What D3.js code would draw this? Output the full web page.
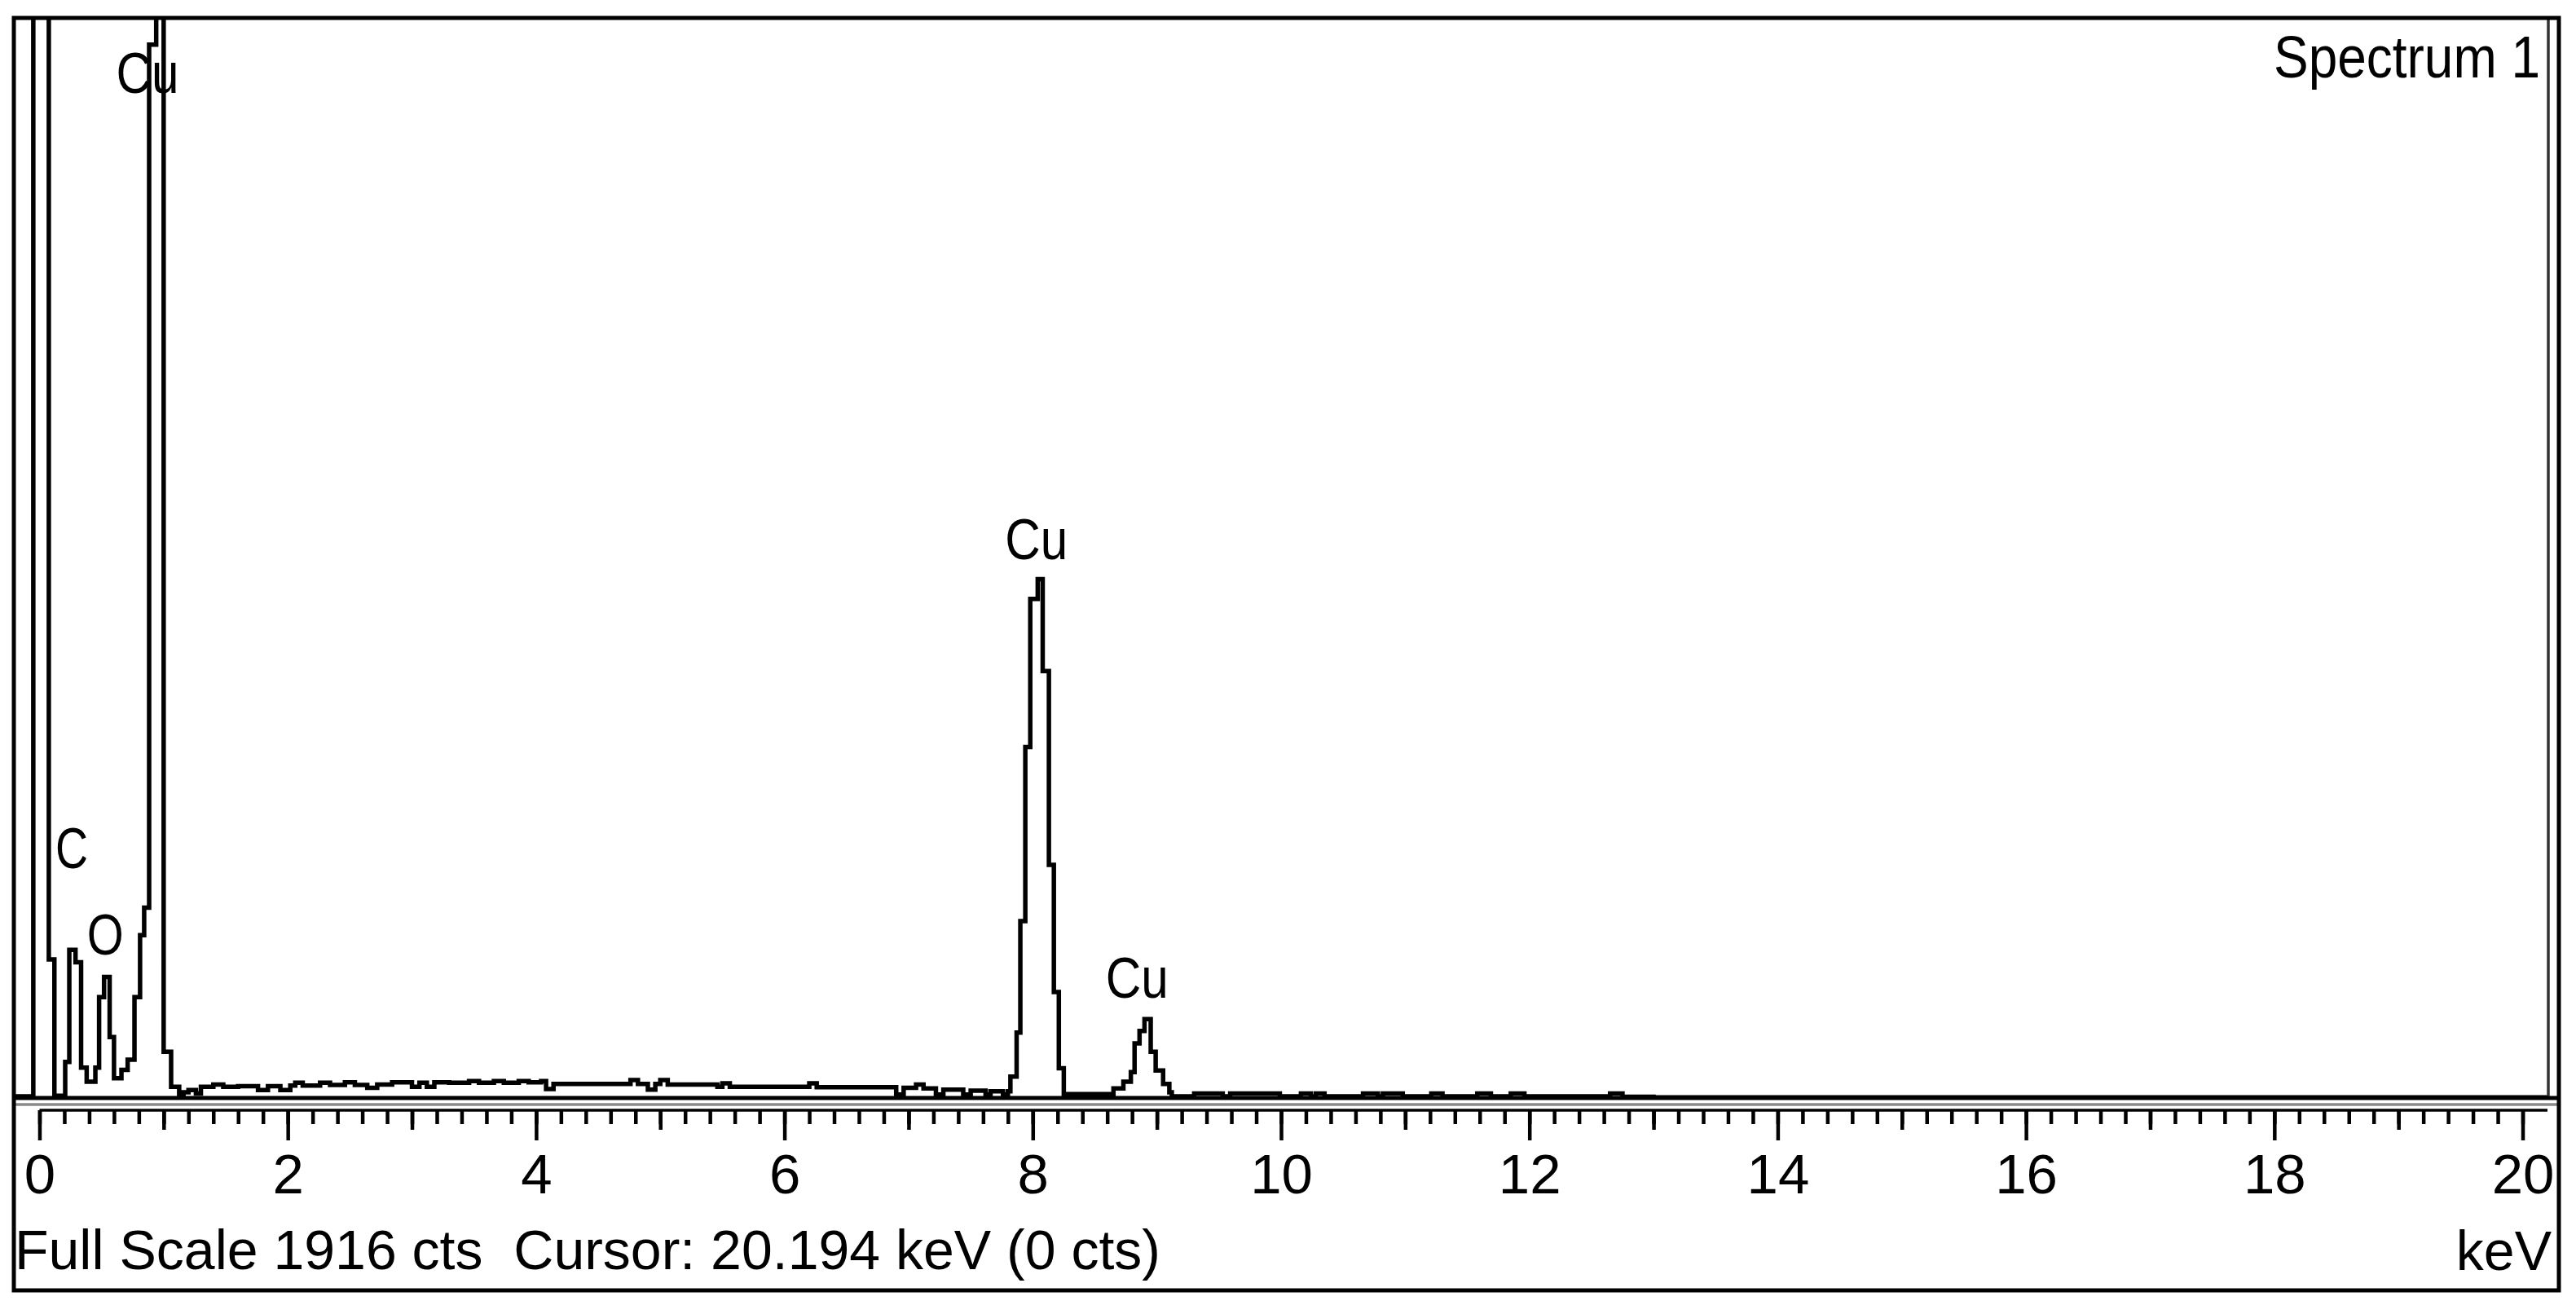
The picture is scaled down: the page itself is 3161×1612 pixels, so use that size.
<!DOCTYPE html>
<html>
<head>
<meta charset="utf-8">
<script src="https://cdn.jsdelivr.net/npm/d3@7"></script>
<style>
  html, body { margin: 0; padding: 0; background: #fff; }
  svg { display: block; }
  text { font-family: "Liberation Sans", Arial, sans-serif; fill: #000; }
</style>
</head>
<body>
<svg id="chart" width="3161" height="1612"></svg>
<script>
// ---- data ----
const energies = [
  -0.20, -0.05, 0.075, 0.12, 0.207, 0.24, 0.29, 0.335, 0.38, 0.45, 0.48, 0.52, 0.565, 0.60, 0.66, 0.71,
  0.765, 0.81, 0.843, 0.883, 0.94, 1.00, 1.06, 1.125,
  1.16, 1.20, 1.26, 1.30, 1.40, 1.48, 1.60, 1.76, 1.84, 1.94, 2.02, 2.06, 2.12, 2.26, 2.34, 2.46, 2.54,
  2.64, 2.72, 2.84, 3.00, 3.06, 3.12, 3.18, 3.30, 3.46, 3.54, 3.66, 3.74, 3.86, 3.94, 4.04, 4.08, 4.14,
  4.76, 4.82, 4.90, 4.96, 5.00, 5.06, 5.46, 5.50, 5.56, 6.20, 6.26, 6.90, 6.96, 7.06, 7.12, 7.22, 7.28,
  7.44, 7.50, 7.62, 7.66, 7.76, 7.80,
  7.82, 7.87, 7.90, 7.94, 7.98, 8.04, 8.08, 8.13, 8.17, 8.21, 8.25,
  8.65, 8.73, 8.79, 8.82, 8.86, 8.90, 8.95, 8.99, 9.05, 9.10, 9.12,
  9.30, 9.53, 9.59, 9.99, 10.16, 10.24, 10.28, 10.35, 10.66, 10.78, 10.82, 10.98, 11.21, 11.30,
  11.58, 11.69, 11.85, 11.96, 12.65, 12.75, 13.00, 20.20
];
const counts = [
  3, 3000, 246, 4, 64, 263, 241, 54, 29, 54, 179, 215, 108, 35, 50, 68,
  179, 289, 338, 1870, 3000, 82, 20, 6,
  10, 14, 8, 20, 24, 20, 21, 14, 21, 14, 22, 27, 22, 27, 23, 28, 23,
  18, 24, 28, 20, 27, 20, 28, 27, 30, 27, 30, 27, 30, 28, 30, 16, 25,
  32, 25, 15, 25, 32, 24, 20, 26, 20, 26, 19, 6, 18, 24, 17, 6, 15,
  6, 13, 6, 12, 6, 12,
  38, 116, 314, 623, 886, 921, 758, 414, 188, 53, 7,
  17, 29, 46, 97, 119, 140, 82, 49, 25, 10, 3,
  8, 3, 8, 3, 8, 3, 8, 3, 8, 3, 8, 3, 8, 3,
  8, 3, 8, 3, 8, 2, 1, 1
];
const fullScale = 1916;
const majorTicks = [0, 2, 4, 6, 8, 10, 12, 14, 16, 18, 20];
const majorTickLabels = ["0", "2", "4", "6", "8", "10", "12", "14", "16", "18", "20"];
const mediumTicks = [1, 3, 5, 7, 9, 11, 13, 15, 17, 19];
const minorTicks = d3.range(0, 101).map(i => +(i * 0.2).toFixed(1)); // 0 .. 20.2 keV every 0.2
const peakNames = ["C", "O", "Cu", "Cu", "Cu"];
const peakLabelEnergy = [0.26, 0.53, 0.87, 8.03, 8.84];
const peakLabelCounts = [408, 254, 1784, 957, 178];
const spectrumTitle = "Spectrum 1";
const statusText = "Full Scale 1916 cts  Cursor: 20.194 keV (0 cts)";
const unitText = "keV";

// ---- layout ----
const svg = d3.select("#chart");
const frame = { left: 17, top: 22, right: 3140, bottom: 1583 };
const plot = { left: 17, top: 22, right: 3127, bottom: 1347 };
const axisY = 1362;

svg.append("rect").attr("width", 3161).attr("height", 1612).attr("fill", "#fff");

const x = d3.scaleLinear().domain([-0.2, 20.2]).range([18, 3126]);
const y = d3.scaleLinear().domain([0, fullScale]).range([plot.bottom, plot.top + 1]);

// clip for the spectrum
svg.append("defs").append("clipPath").attr("id", "plotClip")
  .append("rect").attr("x", plot.left).attr("y", plot.top)
  .attr("width", plot.right - plot.left).attr("height", plot.bottom - plot.top);

// spectrum trace
const pts = energies.map((e, i) => [e, counts[i]]);
const line = d3.line().x(d => x(d[0])).y(d => y(d[1])).curve(d3.curveStepAfter);
svg.append("path")
  .attr("d", line(pts))
  .attr("clip-path", "url(#plotClip)")
  .attr("fill", "none")
  .attr("stroke", "#000")
  .attr("stroke-width", 5.5)
  .attr("stroke-linejoin", "miter");

// frames and baseline
svg.append("line").attr("x1", plot.right).attr("x2", plot.right)
  .attr("y1", plot.top).attr("y2", plot.bottom)
  .attr("stroke", "#333").attr("stroke-width", 3.5);
svg.append("line").attr("x1", frame.left).attr("x2", frame.right)
  .attr("y1", plot.bottom).attr("y2", plot.bottom)
  .attr("stroke", "#000").attr("stroke-width", 5);
svg.append("line").attr("x1", frame.left).attr("x2", frame.right)
  .attr("y1", plot.bottom + 8).attr("y2", plot.bottom + 8)
  .attr("stroke", "#8a8a8a").attr("stroke-width", 3.5);
svg.append("rect")
  .attr("x", frame.left).attr("y", frame.top)
  .attr("width", frame.right - frame.left).attr("height", frame.bottom - frame.top)
  .attr("fill", "none").attr("stroke", "#000").attr("stroke-width", 5);

// axis line
svg.append("line").attr("x1", x(0)).attr("x2", x(20.2))
  .attr("y1", axisY).attr("y2", axisY)
  .attr("stroke", "#000").attr("stroke-width", 3.5);

function styleAxis(g) {
  g.select(".domain").remove();
  g.selectAll(".tick line").attr("stroke", "#000").attr("stroke-width", 4.5);
}
svg.append("g").attr("transform", `translate(0,${axisY})`)
  .call(d3.axisBottom(x).tickValues(minorTicks).tickSize(17).tickFormat(""))
  .call(styleAxis);
svg.append("g").attr("transform", `translate(0,${axisY})`)
  .call(d3.axisBottom(x).tickValues(mediumTicks).tickSize(24).tickFormat(""))
  .call(styleAxis);
const gMajor = svg.append("g").attr("transform", `translate(0,${axisY})`)
  .call(d3.axisBottom(x).tickValues(majorTicks).tickSize(37).tickPadding(16)
    .tickFormat((d, i) => majorTickLabels[i]))
  .call(styleAxis);
gMajor.selectAll(".tick text")
  .style("font-family", '"Liberation Sans", Arial, sans-serif')
  .style("font-size", "69px")
  .attr("fill", "#000");

// peak labels
const labelWidths = { "C": 40, "O": 45, "Cu": 77 };
svg.append("g").selectAll("text")
  .data(peakNames)
  .join("text")
  .attr("x", (d, i) => x(peakLabelEnergy[i]))
  .attr("y", (d, i) => y(peakLabelCounts[i]))
  .attr("text-anchor", "middle")
  .attr("textLength", d => labelWidths[d])
  .attr("lengthAdjust", "spacingAndGlyphs")
  .style("font-size", "70px")
  .text(d => d);

// title / status texts
svg.append("text")
  .attr("x", 3117).attr("y", 95)
  .attr("text-anchor", "end")
  .attr("textLength", 327).attr("lengthAdjust", "spacingAndGlyphs")
  .style("font-size", "72px")
  .text(spectrumTitle);

svg.append("text")
  .attr("x", 18).attr("y", 1557)
  .style("font-size", "68px")
  .style("white-space", "pre")
  .attr("xml:space", "preserve")
  .text(statusText);

svg.append("text")
  .attr("x", 3131).attr("y", 1558)
  .attr("text-anchor", "end")
  .style("font-size", "68px")
  .text(unitText);
</script>
</body>
</html>
